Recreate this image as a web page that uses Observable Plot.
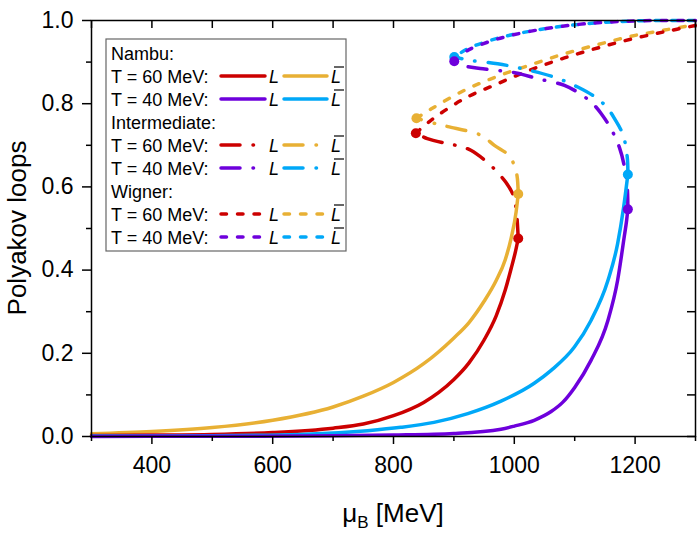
<!DOCTYPE html>
<html><head><meta charset="utf-8">
<script src="https://cdn.jsdelivr.net/npm/d3@7"></script>
<script src="https://cdn.jsdelivr.net/npm/@observablehq/plot@0.6"></script>
<style>body{margin:0;background:#fff}</style>
</head><body><div id="chart"></div>
<script>
// ---- data: [mu_B (MeV), Polyakov loop] ----
const nambuT60_L    = [[300,0.0025],[400,0.0035],[500,0.005],[600,0.0095],[700,0.02],[750,0.03],[800,0.05],[850,0.082],[875,0.106],[900,0.137],[925,0.177],[950,0.232],[970,0.29],[985,0.352],[995,0.405],[1002,0.445],[1006.5,0.476]];
const nambuT60_Lbar = [[300,0.0064],[400,0.0118],[500,0.0214],[600,0.039],[700,0.071],[750,0.097],[800,0.13],[850,0.175],[900,0.237],[925,0.274],[950,0.325],[970,0.375],[985,0.425],[995,0.478],[1003,0.54],[1006.5,0.583]];
const nambuT40_L    = [[300,0.0002],[500,0.0006],[700,0.0017],[800,0.0035],[900,0.0073],[978,0.0175],[1000,0.025],[1033,0.039],[1061,0.06],[1080,0.082],[1100,0.118],[1127,0.183],[1155,0.279],[1171,0.375],[1182,0.48],[1186,0.52],[1188,0.546]];
const nambuT40_Lbar = [[300,0.001],[500,0.002],[646,0.005],[757,0.014],[812,0.022],[867,0.034],[923,0.055],[978,0.085],[1033,0.128],[1061,0.159],[1099.5,0.215],[1127,0.279],[1155,0.375],[1171,0.463],[1181,0.551],[1188,0.63]];

const interT60_L    = [[1006.5,0.476],[1005,0.515],[1002.8,0.551],[999,0.578],[986,0.611],[972.5,0.634],[958.6,0.655],[928,0.688],[909,0.698],[889.6,0.704],[856,0.716],[837,0.729]];
const interT60_Lbar = [[1006.5,0.583],[1004.5,0.627],[1000,0.651],[991.7,0.675],[967,0.70],[945,0.724],[890,0.745],[870,0.752],[838,0.765]];
const interT40_L    = [[1188,0.546],[1187,0.599],[1182.5,0.647],[1174,0.695],[1160,0.74],[1144,0.776],[1130,0.80],[1113,0.82],[1083,0.844],[1039,0.86],[1003,0.874],[948,0.884],[914,0.892],[900.6,0.902]];
const interT40_Lbar = [[1188,0.63],[1187,0.671],[1180,0.725],[1166,0.764],[1155,0.788],[1138,0.812],[1105,0.84],[1066,0.864],[1014,0.884],[972.5,0.896],[928,0.904],[900.6,0.912]];

const wignerT60_L    = [[837,0.729],[862,0.76],[917,0.812],[972.5,0.848],[1028,0.882],[1083,0.91],[1138,0.934],[1193,0.955],[1249,0.973],[1300,0.988]];
const wignerT60_Lbar = [[838,0.765],[862,0.787],[917,0.832],[972.5,0.866],[1028,0.894],[1083,0.92],[1138,0.942],[1193,0.962],[1249,0.977],[1300,0.99]];
const wignerT40_L    = [[900.6,0.902],[922.7,0.928],[960,0.95],[994,0.964],[1050,0.98],[1116,0.992],[1200,0.999],[1300,1.0]];
const wignerT40_Lbar = [[900.6,0.912],[922.7,0.932],[960,0.952],[994,0.965],[1050,0.98],[1116,0.992],[1200,0.999],[1300,1.0]];

const xMajor = [400,600,800,1000,1200];
const xMinor = [300,500,700,900,1100,1300];
const yMajor = [0,0.2,0.4,0.6,0.8,1.0];
const yMinor = [0.1,0.3,0.5,0.7,0.9];

const branchNames = ["Nambu:","Intermediate:","Wigner:"];
const tempLabels = ["T = 60 MeV:","T = 40 MeV:"];

// ---- styles ----
const RED="#CC0000", GOLD="#E8B034", PURPLE="#6E00DC", BLUE="#00A8F8";
const DASH = {solid: null, dashdot: "19,13,0.5,13", dashed: "5.5,11"};
const W=698, H=535, mL=91, mR=3, mT=20, mB=99;
const pw = W-mL-mR, ph = H-mT-mB;

const branches = [
  {name: branchNames[0], style:"solid",   rows:[[nambuT60_L, RED, nambuT60_Lbar, GOLD],[nambuT40_L, PURPLE, nambuT40_Lbar, BLUE]]},
  {name: branchNames[1], style:"dashdot", rows:[[interT60_L, RED, interT60_Lbar, GOLD],[interT40_L, PURPLE, interT40_Lbar, BLUE]]},
  {name: branchNames[2], style:"dashed",  rows:[[wignerT60_L, RED, wignerT60_Lbar, GOLD],[wignerT40_L, PURPLE, wignerT40_Lbar, BLUE]]}
];

const marks = [];
for (const b of [branches[2], branches[1], branches[0]]) {
  const order = [[b.rows[0][2],GOLD,0],[b.rows[0][0],RED,0],[b.rows[1][2],BLUE,8],[b.rows[1][0],PURPLE,0]];
  for (const [data,color,off] of order) {
    marks.push(Plot.line(data, {x: d=>d[0], y: d=>d[1], stroke: color, strokeWidth: 3.5,
      strokeDasharray: DASH[b.style], strokeDashoffset: b.style==="dashed" ? off : 0,
      strokeLinecap: "round", curve: b.style==="solid" ? "monotone-x" : "catmull-rom"}));
  }
}
for (const [L, cL, Lb, cLb] of branches[1].rows) {
  for (const [data,color] of [[Lb,cLb],[L,cL]]) {
    marks.push(Plot.dot([data[0], data[data.length-1]], {x: d=>d[0], y: d=>d[1], fill: color, r: 5}));
  }
}

const svg = Plot.plot({
  width: W, height: H,
  marginLeft: mL, marginRight: mR, marginTop: mT, marginBottom: mB,
  style: {fontFamily: "'Liberation Sans', Arial, sans-serif", background: "#fff", color: "#000"},
  x: {domain: [300,1300]},
  y: {domain: [0,1]},
  marks: [
    ...marks,
    Plot.axisX({ticks: xMajor, tickSize: 8, tickPadding: 12, fontSize: 23, label: null, strokeWidth: 1.5, tickFormat: d=>String(d)}),
    Plot.axisX({ticks: xMinor, tickSize: 5, label: null, strokeWidth: 1.5, tickFormat: () => ""}),
    Plot.axisY({ticks: yMajor, tickSize: 9, tickPadding: 9, fontSize: 23, label: null, strokeWidth: 1.5, tickFormat: d=>d.toFixed(1)}),
    Plot.axisY({ticks: yMinor, tickSize: 5, label: null, strokeWidth: 1.5, tickFormat: () => ""}),
    Plot.ruleX([...xMajor, ...xMinor], {insetBottom: ph-8, strokeWidth: 1.5}),
    Plot.ruleY([...yMajor, ...yMinor], {insetLeft: pw-8, strokeWidth: 1.5}),
    Plot.frame({stroke: "#000", strokeWidth: 1.5})
  ]
});

const s = d3.select(svg);
s.append("text").attr("transform", `translate(26,${mT+ph/2}) rotate(-90)`)
  .attr("text-anchor","middle").attr("font-size",26).attr("fill","#000").text("Polyakov loops");
const xl = s.append("text").attr("x", mL+pw/2).attr("y", 522).attr("text-anchor","middle")
  .attr("font-size",26).attr("fill","#000");
xl.append("tspan").text("μ");
xl.append("tspan").attr("font-size",17).attr("dy",6).text("B");
xl.append("tspan").attr("dy",-6).text(" [MeV]");

// legend
const lg = s.append("g").attr("text-anchor","start");
lg.append("rect").attr("x",106).attr("y",39).attr("width",240).attr("height",212)
  .attr("fill","#fff").attr("stroke","#666").attr("stroke-width",1.2);
let row = 0;
const rowY = i => 53 + i*23;
for (const b of branches) {
  lg.append("text").attr("x",111).attr("y",rowY(row)+6.5).attr("font-size",18).attr("fill","#000").text(b.name);
  row++;
  b.rows.forEach(([L, cL, Lb, cLb], k) => {
    const cy = rowY(row);
    lg.append("text").attr("x",111).attr("y",cy+6.5).attr("font-size",18).attr("fill","#000").text(tempLabels[k]);
    lg.append("line").attr("x1",221).attr("x2",265).attr("y1",cy).attr("y2",cy)
      .attr("stroke",cL).attr("stroke-width",3.5).attr("stroke-linecap","round")
      .attr("stroke-dasharray",DASH[b.style]);
    lg.append("text").attr("x",269).attr("y",cy+6.5).attr("font-size",18).attr("font-style","italic").attr("fill","#000").text("L");
    lg.append("line").attr("x1",284).attr("x2",327).attr("y1",cy).attr("y2",cy)
      .attr("stroke",cLb).attr("stroke-width",3.5).attr("stroke-linecap","round")
      .attr("stroke-dasharray",DASH[b.style]);
    lg.append("text").attr("x",331).attr("y",cy+6.5).attr("font-size",18).attr("font-style","italic").attr("fill","#000").text("L");
    lg.append("line").attr("x1",334).attr("x2",344).attr("y1",cy-9).attr("y2",cy-9).attr("stroke","#000").attr("stroke-width",1.2);
    row++;
  });
}

document.getElementById("chart").appendChild(svg);
</script>
</body></html>
